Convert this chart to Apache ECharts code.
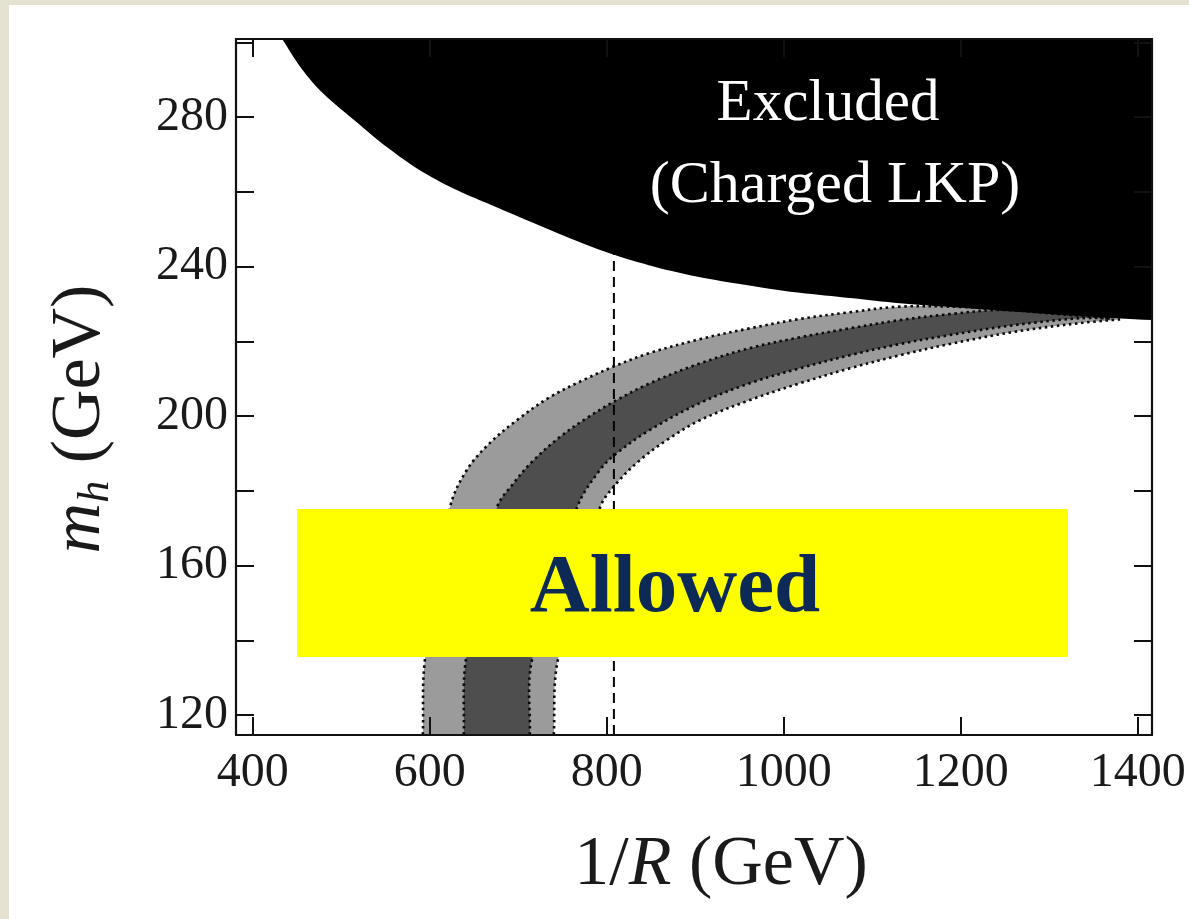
<!DOCTYPE html>
<html>
<head>
<meta charset="utf-8">
<script src="https://cdn.jsdelivr.net/npm/echarts@6/dist/echarts.min.js"></script>
<style>
  html, body { margin: 0; padding: 0; background: #ffffff; }
  #chart { width: 1189px; height: 919px; }
</style>
</head>
<body>
<div id="chart"></div>
<script>
// Axis ticks and labels
const xTicks = [400, 600, 800, 1000, 1200, 1400];
const yTicks = [120, 140, 160, 180, 200, 220, 240, 260, 280, 300];
const yLabels = [120, 160, 200, 240, 280];

// Lower edge of the excluded (charged LKP) region: [1/R, m_h] in GeV
const excludedEdge = [
  [419, 306], [433.9, 300.6], [453.1, 293.6], [475.7, 287.2], [513, 279.5], [551.4, 272],
  [588.7, 265.8], [626, 261], [664.4, 257], [701.7, 253.2], [758.2, 247.6], [809, 243.1],
  [859.9, 239.6], [916.4, 236.7], [972.9, 234.5], [1018.1, 233], [1074.6, 231.6],
  [1131.1, 230.2], [1187.6, 229.2], [1258.8, 228], [1334.5, 226.8], [1416, 225.7]
];

// Outer (light) band edges
const outerUpper = [
  [590, 105], [592.1, 114.7], [594.4, 134.7], [622.6, 175.4], [641.8, 185.6], [667.8, 192.8],
  [698.3, 198.9], [735.6, 205.1], [772.9, 209.6], [809, 213.4], [848.6, 216.9], [905.1, 220.6],
  [961.6, 223.5], [1018.1, 226], [1074.6, 227.8], [1131.1, 229.3], [1200, 229.2],
  [1280, 228], [1370, 226.3]
];
const outerLower = [
  [739, 105], [740.1, 114.7], [744.6, 134.7], [792.1, 175.4], [811.3, 182.1], [837.3, 188.2],
  [867.8, 193.6], [905.1, 198.9], [961.6, 204.3], [1018.1, 208.8], [1074.6, 212.8],
  [1131.1, 216.3], [1187.6, 219.3], [1258.8, 222.5], [1334.5, 224.9], [1380, 225.9]
];

// Inner (dark) band edges
const innerUpper = [
  [637, 105], [638.4, 114.7], [640.7, 134.7], [675.7, 175.4], [693.8, 181.8], [716.4, 188],
  [746.9, 194.4], [777.4, 199.5], [809, 204], [848.6, 208.8], [905.1, 214.1], [961.6, 218.2],
  [1018.1, 221.1], [1074.6, 223.5], [1131.1, 225.7], [1187.6, 227.3], [1244.1, 228.4],
  [1300, 227.5], [1370, 226.2]
];
const innerLower = [
  [712, 105], [713, 114.7], [715.3, 134.7], [766.1, 175.4], [792.1, 185.6], [811.3, 190.1],
  [848.6, 196.3], [905.1, 203.5], [961.6, 208.8], [1018.1, 212.8], [1074.6, 216.3],
  [1131.1, 219.3], [1187.6, 221.7], [1258.8, 224.3], [1334.5, 226.2], [1370, 226.1]
];

// Vertical reference line at 1/R (GeV)
const referenceR = 808;

const xRange = [381, 1416];
const yRange = [114.7, 300.9];

const SERIF = '"Liberation Serif", "DejaVu Serif", serif';
const SMOOTH = 0.35;
const EDGE = { stroke: '#0a0a0a', lineWidth: 2.6, lineDash: [2.5, 3.6], fill: null };
const TEXT = '#1a1a1a';

function polygonItem(upper, lower, fill) {
  return function (params, api) {
    const pts = upper.concat(lower.slice().reverse()).map(p => api.coord(p));
    return { type: 'polygon', shape: { points: pts, smooth: SMOOTH }, style: { fill: fill } };
  };
}

function edgesItem(curves) {
  return function (params, api) {
    return {
      type: 'group',
      children: curves.map(c => ({
        type: 'polyline',
        shape: { points: c.map(p => api.coord(p)), smooth: SMOOTH },
        style: EDGE
      }))
    };
  };
}

function tickCfg(values) {
  return { show: true, inside: true, length: 18, customValues: values,
           lineStyle: { color: '#111', width: 2 } };
}
const lineCfg = { show: true, onZero: false, lineStyle: { color: '#111', width: 2.2 } };
const plain = v => String(v);

const option = {
  backgroundColor: '#ffffff',
  animation: false,
  grid: { left: 236, top: 39, right: 37, bottom: 184, containLabel: false },
  xAxis: [
    {
      type: 'value', position: 'bottom', min: xRange[0], max: xRange[1], z: 10,
      axisLine: lineCfg, axisTick: tickCfg(xTicks), splitLine: { show: false },
      axisLabel: { customValues: xTicks, formatter: plain, fontSize: 48, lineHeight: 48,
                   fontFamily: SERIF, color: TEXT, margin: 14 },
      name: '{n|1/}{i|R}{n| (GeV)}', nameLocation: 'middle', nameGap: 94,
      nameTextStyle: {
        padding: [0, 0, 0, 54],
        rich: {
          n: { fontFamily: SERIF, fontSize: 70, lineHeight: 74, color: TEXT },
          i: { fontFamily: SERIF, fontStyle: 'italic', fontSize: 70, lineHeight: 74, color: TEXT }
        }
      }
    },
    {
      type: 'value', position: 'top', min: xRange[0], max: xRange[1], z: 10,
      axisLine: lineCfg, axisTick: tickCfg(xTicks), axisLabel: { show: false },
      splitLine: { show: false }
    }
  ],
  yAxis: [
    {
      type: 'value', position: 'left', min: yRange[0], max: yRange[1], z: 10,
      axisLine: lineCfg, axisTick: tickCfg(yTicks), splitLine: { show: false },
      axisLabel: { customValues: yLabels, formatter: plain, fontSize: 48, lineHeight: 48,
                   fontFamily: SERIF, color: TEXT, margin: 8 },
      name: '{mi|m}{sub|h}{n| (GeV)}', nameLocation: 'middle', nameRotate: 90, nameGap: 118,
      nameTextStyle: {
        padding: [0, 64, 0, 0],
        rich: {
          mi: { fontFamily: SERIF, fontStyle: 'italic', fontSize: 70, lineHeight: 74, color: TEXT },
          sub: { fontFamily: SERIF, fontStyle: 'italic', fontSize: 44, lineHeight: 42,
                 verticalAlign: 'bottom', color: TEXT },
          n: { fontFamily: SERIF, fontSize: 70, lineHeight: 74, color: TEXT }
        }
      }
    },
    {
      type: 'value', position: 'right', min: yRange[0], max: yRange[1], z: 10,
      axisLine: lineCfg, axisTick: tickCfg(yTicks), axisLabel: { show: false },
      splitLine: { show: false }
    }
  ],
  series: [
    { type: 'custom', name: 'outer band', coordinateSystem: 'cartesian2d', clip: true, z: 1,
      data: [0], renderItem: polygonItem(outerUpper, outerLower, '#9b9b9b') },
    { type: 'custom', name: 'inner band', coordinateSystem: 'cartesian2d', clip: true, z: 2,
      data: [0], renderItem: polygonItem(innerUpper, innerLower, '#4e4e4e') },
    { type: 'custom', name: 'band edges', coordinateSystem: 'cartesian2d', clip: true, z: 3,
      data: [0], renderItem: edgesItem([outerUpper, innerUpper, innerLower, outerLower]) },
    { type: 'custom', name: 'reference', coordinateSystem: 'cartesian2d', clip: true, z: 4,
      data: [0],
      renderItem: function (params, api) {
        const a = api.coord([referenceR, yRange[0]]);
        const b = api.coord([referenceR, yRange[1]]);
        return {
          type: 'line',
          shape: { x1: a[0], y1: a[1], x2: b[0], y2: b[1] },
          style: { stroke: '#000', lineWidth: 2, lineDash: [10, 6] }
        };
      } },
    { type: 'custom', name: 'excluded', coordinateSystem: 'cartesian2d', clip: true, z: 5,
      data: [0],
      renderItem: function (params, api) {
        const last = excludedEdge[excludedEdge.length - 1];
        const first = excludedEdge[0];
        const pts = excludedEdge.concat([[last[0] + 20, last[1]], [last[0] + 20, 320], [first[0], 320]])
          .map(p => api.coord(p));
        return { type: 'polygon', shape: { points: pts, smooth: 0.3 }, style: { fill: '#000' } };
      } }
  ],
  graphic: [
    { type: 'rect', z: 100, shape: { x: 0, y: 0, width: 9, height: 919 }, style: { fill: '#e6e2d2' } },
    { type: 'rect', z: 100, shape: { x: 0, y: 0, width: 1189, height: 5 }, style: { fill: '#e6e2d2' } },
    { type: 'text', z: 100, x: 828, y: 104,
      style: { text: 'Excluded', fill: '#ffffff', fontFamily: SERIF, fontSize: 59,
               align: 'center', verticalAlign: 'middle' } },
    { type: 'text', z: 100, x: 835, y: 186,
      style: { text: '(Charged LKP)', fill: '#ffffff', fontFamily: SERIF, fontSize: 60,
               align: 'center', verticalAlign: 'middle' } },
    { type: 'rect', z: 100, shape: { x: 297, y: 509, width: 771, height: 148 },
      style: { fill: '#ffff00' } },
    { type: 'text', z: 101, x: 675, y: 590,
      style: { text: 'Allowed', fill: '#0c2a55', fontFamily: SERIF, fontSize: 83,
               fontWeight: 'bold', align: 'center', verticalAlign: 'middle' } }
  ]
};

const chart = echarts.init(document.getElementById('chart'), null, { renderer: 'canvas' });
chart.setOption(option);
</script>
</body>
</html>
